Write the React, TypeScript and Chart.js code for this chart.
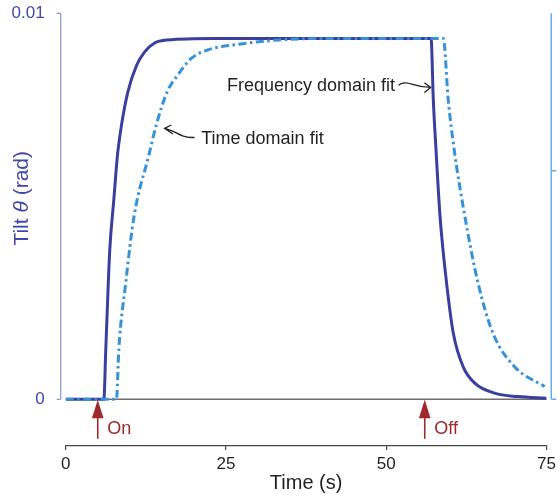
import React, { useEffect, useRef } from 'react';
import { Chart, registerables } from 'chart.js';

Chart.register(...registerables);

const FONT = '"Liberation Sans", Arial, Helvetica, sans-serif';

// Frequency domain fit (solid)
const solidTime = [0, 5.95, 6.25, 6.87, 7.5, 8.08, 8.71, 9.69, 11.08, 12.32, 13.87, 15.89, 23.2, 40, 56.99, 57.34, 57.76, 58.39, 59.41, 60.45, 62.0, 63.8, 66.9, 70.5, 75];
const solidTilt = [0, 0, 0.00128, 0.00386, 0.00516, 0.00633, 0.00711, 0.00796, 0.00866, 0.009, 0.00923, 0.00931, 0.00935, 0.00935, 0.00935, 0.00775, 0.00646, 0.00473, 0.00301, 0.00172, 0.00084, 0.00042, 0.00016, 0.00007, 0.00003];

// Time domain fit (dash-dot)
const dashTime = [0, 7.92, 8.28, 9.36, 10.65, 12.98, 14.13, 15.84, 17.48, 19.57, 22.14, 27.07, 33.3, 41, 58.9, 59.67, 60.6, 62.27, 64.32, 66.65, 70.03, 74.7];
const dashTilt = [0, 0, 0.00128, 0.00301, 0.00473, 0.00633, 0.00711, 0.00797, 0.0084, 0.00883, 0.00905, 0.0092, 0.00931, 0.00935, 0.00935, 0.00775, 0.00646, 0.00473, 0.00301, 0.00171, 0.00084, 0.00033];

const xTicks = [0, 25, 50, 75];
const yTicks = [0, 0.01];
const yTickLabels = ['0', '0.01'];
const rightAxisTicks = [0, 0.00592];
const stimulusTimes = [5, 56];
const stimulusLabels = ['On', 'Off'];
const annotationLabels = ['Frequency domain fit', 'Time domain fit'];
const annotationTime = [56.93, 15.42];
const annotationTilt = [0.00808, 0.00702];

const X_MIN = 0;
const X_MAX = 75;
const Y_MIN = -0.00121;
const Y_MAX = 0.01;

const SOLID = '#3a3e9e';
const DASH = '#3592d8';
const AXIS_BLUE = '#4348a8';
const AXIS_LINE = '#8e92cf';
const RIGHT_AXIS = '#64b0e6';
const RED = '#9c2a2b';
const TEXT = '#231f20';

const customPlugin = {
  id: 'customDecor',
  beforeDatasetsDraw(chart: any) {
    const { ctx, scales } = chart;
    const x = scales.x, y = scales.y;
    ctx.save();
    ctx.strokeStyle = '#6f6f6f';
    ctx.lineWidth = 1.4;
    ctx.beginPath();
    ctx.moveTo(x.getPixelForValue(X_MIN), y.getPixelForValue(0));
    ctx.lineTo(x.getPixelForValue(X_MAX), y.getPixelForValue(0));
    ctx.stroke();
    ctx.restore();
  },
  afterDraw(chart: any) {
    const { ctx, scales, chartArea } = chart;
    const x = scales.x, y = scales.y;
    const px = (t: number) => x.getPixelForValue(t);
    const py = (v: number) => y.getPixelForValue(v);
    ctx.save();

    // left axis line + ticks
    const ax = chartArea.left - 5;
    ctx.strokeStyle = AXIS_LINE;
    ctx.lineWidth = 1.2;
    ctx.beginPath();
    ctx.moveTo(ax, py(yTicks[yTicks.length - 1]));
    ctx.lineTo(ax, py(yTicks[0]));
    yTicks.forEach((v) => {
      ctx.moveTo(ax - 4, py(v));
      ctx.lineTo(ax, py(v));
    });
    ctx.stroke();

    // right axis line + ticks
    const rx = chartArea.right + 4.7;
    ctx.strokeStyle = RIGHT_AXIS;
    ctx.lineWidth = 1.5;
    ctx.beginPath();
    ctx.moveTo(rx, py(Y_MAX));
    ctx.lineTo(rx, py(0));
    rightAxisTicks.forEach((v) => {
      ctx.moveTo(rx, py(v));
      ctx.lineTo(rx + 5, py(v));
    });
    ctx.stroke();

    // y title with italic theta
    const fs = 21;
    const partA = 'Tilt ';
    const partB = '\u03B8';
    const partC = ' (rad)';
    ctx.fillStyle = AXIS_BLUE;
    ctx.font = `${fs}px ${FONT}`;
    const wA = ctx.measureText(partA).width;
    const wC = ctx.measureText(partC).width;
    ctx.font = `italic ${fs}px ${FONT}`;
    const wB = ctx.measureText(partB).width;
    const total = wA + wB + wC;
    const cy = (py(Y_MAX) + py(0)) / 2 - 8;
    ctx.translate(28.3, cy);
    ctx.rotate(-Math.PI / 2);
    ctx.textBaseline = 'alphabetic';
    ctx.textAlign = 'left';
    let cx = -total / 2;
    ctx.font = `${fs}px ${FONT}`;
    ctx.fillText(partA, cx, 0);
    cx += wA;
    ctx.font = `italic ${fs}px ${FONT}`;
    ctx.fillText(partB, cx, 0);
    cx += wB;
    ctx.font = `${fs}px ${FONT}`;
    ctx.fillText(partC, cx, 0);
    ctx.setTransform(1, 0, 0, 1, 0, 0);

    // stimulus arrows
    stimulusTimes.forEach((t, i) => {
      const sx = px(t);
      const tip = py(0) + 0.5;
      ctx.fillStyle = RED;
      ctx.strokeStyle = RED;
      ctx.beginPath();
      ctx.moveTo(sx, tip);
      ctx.lineTo(sx + 5.8, tip + 18.5);
      ctx.lineTo(sx - 5.8, tip + 18.5);
      ctx.closePath();
      ctx.fill();
      ctx.lineWidth = 1.6;
      ctx.beginPath();
      ctx.moveTo(sx, tip + 17);
      ctx.lineTo(sx, tip + 39);
      ctx.stroke();
      ctx.font = `18px ${FONT}`;
      ctx.textAlign = 'left';
      ctx.textBaseline = 'alphabetic';
      ctx.fillText(stimulusLabels[i], sx + 9.5, tip + 34.2);
    });

    // annotations
    ctx.strokeStyle = TEXT;
    ctx.fillStyle = TEXT;
    ctx.lineWidth = 1.3;
    ctx.font = `18px ${FONT}`;
    ctx.textBaseline = 'alphabetic';
    // Frequency domain fit: text to the left, arrow points right
    {
      const tx = px(annotationTime[0]);
      const ty = py(annotationTilt[0]);
      ctx.beginPath();
      ctx.moveTo(tx - 32, ty - 2);
      ctx.bezierCurveTo(tx - 29, ty - 5.5, tx - 24, ty - 5, tx - 18, ty - 3);
      ctx.bezierCurveTo(tx - 12, ty - 1, tx - 6, ty, tx, ty);
      ctx.moveTo(tx - 6.3, ty - 4.6);
      ctx.lineTo(tx, ty);
      ctx.lineTo(tx - 6.3, ty + 5);
      ctx.stroke();
      ctx.textAlign = 'right';
      ctx.fillText(annotationLabels[0], tx - 35.6, ty + 3.4);
    }
    // Time domain fit: text to the right, arrow points left
    {
      const tx = px(annotationTime[1]);
      const ty = py(annotationTilt[1]);
      ctx.beginPath();
      ctx.moveTo(tx + 30, ty + 9);
      ctx.bezierCurveTo(tx + 26, ty + 9.5, tx + 22, ty + 9, tx + 18, ty + 7.5);
      ctx.bezierCurveTo(tx + 12, ty + 5, tx + 7, ty + 1.5, tx, ty);
      ctx.moveTo(tx + 6.7, ty - 3.3);
      ctx.lineTo(tx, ty);
      ctx.lineTo(tx + 8.3, ty + 5.7);
      ctx.stroke();
      ctx.textAlign = 'left';
      ctx.fillText(annotationLabels[1], tx + 36.7, ty + 15.7);
    }

    ctx.restore();
  },
};

export default function App() {
  const canvasRef = useRef<HTMLCanvasElement | null>(null);

  useEffect(() => {
    const canvas = canvasRef.current;
    if (!canvas) return;
    Chart.defaults.font.family = FONT;
    const chart = new Chart(canvas, {
      type: 'line',
      data: {
        datasets: [
          {
            label: 'Time domain fit',
            data: dashTime.map((t, i) => ({ x: t, y: dashTilt[i] })),
            borderColor: DASH,
            borderWidth: 3,
            borderDash: [8, 3.5, 2.5, 3.5],
            pointRadius: 0,
            fill: false,
            cubicInterpolationMode: 'monotone',
          },
          {
            label: 'Frequency domain fit',
            data: solidTime.map((t, i) => ({ x: t, y: solidTilt[i] })),
            borderColor: SOLID,
            borderWidth: 3,
            pointRadius: 0,
            fill: false,
            cubicInterpolationMode: 'monotone',
          },
        ],
      },
      options: {
        responsive: false,
        animation: false,
        events: [],
        layout: { padding: { left: 0, right: 10.7, top: 13.3, bottom: 0 } },
        plugins: { legend: { display: false }, tooltip: { enabled: false } },
        scales: {
          x: {
            type: 'linear',
            position: 'bottom',
            min: X_MIN,
            max: X_MAX,
            afterBuildTicks: (scale: any) => {
              scale.ticks = xTicks.map((v) => ({ value: v }));
            },
            afterFit: (scale: any) => {
              scale.height = 52;
            },
            grid: { drawOnChartArea: false, drawTicks: true, tickLength: 4, color: '#444', lineWidth: 1.2 },
            border: { display: true, color: '#444', width: 1.2 },
            ticks: { color: TEXT, font: { size: 17, family: FONT }, padding: 4, maxRotation: 0, autoSkip: false },
            title: { display: true, text: 'Time (s)', color: TEXT, font: { size: 20, family: FONT }, padding: { top: 0, bottom: 3 } },
          },
          y: {
            type: 'linear',
            position: 'left',
            min: Y_MIN,
            max: Y_MAX,
            afterBuildTicks: (scale: any) => {
              scale.ticks = yTicks.map((v) => ({ value: v }));
            },
            afterFit: (scale: any) => {
              scale.width = 65.7;
              scale.paddingTop = 0;
              scale.paddingBottom = 0;
            },
            grid: { display: false, drawTicks: true, tickLength: 21 },
            border: { display: false },
            ticks: {
              color: AXIS_BLUE,
              font: { size: 17, family: FONT },
              padding: 0,
              autoSkip: false,
              callback: (value: any) => {
                const idx = yTicks.indexOf(Number(value));
                return idx >= 0 ? yTickLabels[idx] : '';
              },
            },
            title: { display: false },
          },
        },
      },
      plugins: [customPlugin],
    } as any);
    return () => chart.destroy();
  }, []);

  return (
    <div style={{ position: 'absolute', left: 0, top: 0, width: 560, height: 498, background: '#fff' }}>
      <canvas ref={canvasRef} width={560} height={498} style={{ display: 'block', width: 560, height: 498 }} />
    </div>
  );
}
